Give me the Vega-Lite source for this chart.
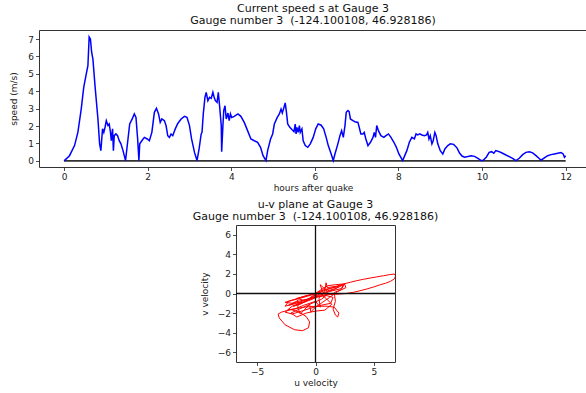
{
  "$schema": "https://vega.github.io/schema/vega-lite/v6.json",
  "padding": {"left": 9, "top": 2, "right": 0, "bottom": 0},
  "background": "white",
  "bounds": "flush",
  "spacing": 58,
  "config": {
    "font": "DejaVu Sans",
    "view": {"stroke": "#333333", "strokeWidth": 1},
    "axis": {
      "grid": false,
      "domain": false,
      "tickColor": "#222222",
      "tickSize": 3.5,
      "tickWidth": 0.8,
      "tickCount": 30,
      "format": "d",
      "labelFont": "DejaVu Sans",
      "labelFontSize": 9,
      "labelColor": "#222222",
      "labelPadding": 2,
      "labelOverlap": false,
      "labelFlush": false,
      "titleFont": "DejaVu Sans",
      "titleFontSize": 9,
      "titleFontWeight": "normal",
      "titleColor": "#222222"
    },
    "title": {
      "font": "DejaVu Sans",
      "fontSize": 11,
      "fontWeight": "normal",
      "color": "#111111",
      "anchor": "middle",
      "lineHeight": 12,
      "offset": 4
    }
  },
  "datasets": {
    "speed": [
      {"h":0,"s":0},{"h":0.13,"s":0.3},{"h":0.25,"s":0.88},{"h":0.33,"s":1.64},{"h":0.41,"s":2.98},
      {"h":0.47,"s":4.22},{"h":0.53,"s":4.99},{"h":0.57,"s":5.47},{"h":0.6,"s":7.12},{"h":0.63,"s":7.0},
      {"h":0.66,"s":6.23},{"h":0.69,"s":5.85},{"h":0.74,"s":4.32},{"h":0.81,"s":2.41},{"h":0.85,"s":0.98},
      {"h":0.88,"s":0.59},{"h":0.92,"s":1.84},{"h":0.95,"s":1.64},{"h":0.98,"s":1.93},{"h":1.01,"s":2.31},
      {"h":1.05,"s":2.03},{"h":1.08,"s":2.12},{"h":1.11,"s":1.64},{"h":1.13,"s":1.16},{"h":1.16,"s":1.84},
      {"h":1.18,"s":0.59},{"h":1.2,"s":1.45},{"h":1.24,"s":1.55},{"h":1.28,"s":1.45},{"h":1.32,"s":1.16},
      {"h":1.36,"s":0.98},{"h":1.41,"s":0.59},{"h":1.47,"s":0.02},{"h":1.52,"s":1.07},{"h":1.57,"s":2.12},
      {"h":1.63,"s":2.41},{"h":1.68,"s":2.7},{"h":1.72,"s":2.5},{"h":1.76,"s":1.26},{"h":1.79,"s":0.02},
      {"h":1.81,"s":0.98},{"h":1.86,"s":1.16},{"h":1.92,"s":1.35},{"h":1.99,"s":1.26},{"h":2.04,"s":1.16},
      {"h":2.1,"s":1.64},{"h":2.16,"s":2.79},{"h":2.21,"s":3.02},{"h":2.26,"s":2.7},{"h":2.3,"s":2.21},
      {"h":2.34,"s":2.41},{"h":2.4,"s":2.31},{"h":2.44,"s":2.03},{"h":2.48,"s":1.45},{"h":2.52,"s":1.35},
      {"h":2.56,"s":1.55},{"h":2.6,"s":1.45},{"h":2.66,"s":1.84},{"h":2.72,"s":2.15},{"h":2.8,"s":2.41},
      {"h":2.88,"s":2.56},{"h":2.94,"s":2.5},{"h":3.0,"s":2.03},{"h":3.05,"s":1.26},{"h":3.12,"s":0.49},
      {"h":3.18,"s":0.02},{"h":3.23,"s":0.69},{"h":3.28,"s":1.55},{"h":3.3,"s":1.64},{"h":3.33,"s":2.7},
      {"h":3.37,"s":3.65},{"h":3.4,"s":3.94},{"h":3.44,"s":3.46},{"h":3.48,"s":3.65},{"h":3.52,"s":3.59},
      {"h":3.56,"s":3.94},{"h":3.59,"s":3.65},{"h":3.62,"s":3.46},{"h":3.66,"s":3.36},{"h":3.69,"s":3.94},
      {"h":3.72,"s":3.17},{"h":3.76,"s":2.03},{"h":3.77,"s":0.53},{"h":3.8,"s":2.03},{"h":3.82,"s":2.89},
      {"h":3.85,"s":3.17},{"h":3.88,"s":2.41},{"h":3.92,"s":2.75},{"h":3.95,"s":2.31},{"h":3.98,"s":2.7},
      {"h":4.01,"s":2.5},{"h":4.07,"s":2.56},{"h":4.16,"s":2.7},{"h":4.23,"s":2.56},{"h":4.31,"s":2.21},
      {"h":4.39,"s":1.74},{"h":4.47,"s":1.26},{"h":4.55,"s":1.16},{"h":4.63,"s":1.07},{"h":4.7,"s":0.78},
      {"h":4.76,"s":0.3},{"h":4.83,"s":0.02},{"h":4.87,"s":0.59},{"h":4.94,"s":1.26},{"h":4.99,"s":1.55},
      {"h":5.03,"s":2.12},{"h":5.1,"s":2.5},{"h":5.15,"s":2.7},{"h":5.19,"s":2.98},{"h":5.22,"s":2.75},
      {"h":5.26,"s":3.07},{"h":5.29,"s":3.33},{"h":5.32,"s":2.79},{"h":5.35,"s":2.12},{"h":5.4,"s":1.93},
      {"h":5.45,"s":1.8},{"h":5.5,"s":1.68},{"h":5.53,"s":2.12},{"h":5.55,"s":1.55},{"h":5.57,"s":1.93},
      {"h":5.6,"s":1.64},{"h":5.63,"s":2.03},{"h":5.65,"s":1.64},{"h":5.69,"s":1.84},{"h":5.72,"s":1.16},
      {"h":5.77,"s":0.88},{"h":5.83,"s":0.78},{"h":5.89,"s":0.98},{"h":5.96,"s":1.35},{"h":6.02,"s":1.84},
      {"h":6.08,"s":2.12},{"h":6.15,"s":2.05},{"h":6.21,"s":1.84},{"h":6.27,"s":1.35},{"h":6.32,"s":0.88},
      {"h":6.39,"s":0.4},{"h":6.44,"s":0.02},{"h":6.48,"s":0.4},{"h":6.55,"s":0.98},{"h":6.6,"s":1.45},
      {"h":6.64,"s":1.74},{"h":6.68,"s":1.35},{"h":6.72,"s":2.03},{"h":6.75,"s":2.79},{"h":6.79,"s":2.89},
      {"h":6.82,"s":2.83},{"h":6.85,"s":2.41},{"h":6.91,"s":2.31},{"h":6.96,"s":2.25},{"h":7.03,"s":2.21},
      {"h":7.06,"s":1.93},{"h":7.1,"s":1.55},{"h":7.15,"s":1.55},{"h":7.18,"s":1.64},{"h":7.22,"s":1.26},
      {"h":7.27,"s":0.88},{"h":7.33,"s":1.07},{"h":7.39,"s":1.35},{"h":7.42,"s":1.64},{"h":7.45,"s":1.35},
      {"h":7.48,"s":2.03},{"h":7.52,"s":1.74},{"h":7.58,"s":1.45},{"h":7.65,"s":1.35},{"h":7.7,"s":1.45},
      {"h":7.76,"s":1.55},{"h":7.82,"s":1.35},{"h":7.89,"s":1.07},{"h":7.95,"s":0.78},{"h":8.01,"s":0.4},
      {"h":8.1,"s":0.02},{"h":8.2,"s":0.59},{"h":8.26,"s":1.07},{"h":8.32,"s":1.35},{"h":8.38,"s":1.26},
      {"h":8.42,"s":1.55},{"h":8.46,"s":1.49},{"h":8.51,"s":1.55},{"h":8.56,"s":1.49},{"h":8.62,"s":1.45},
      {"h":8.67,"s":1.49},{"h":8.7,"s":1.64},{"h":8.73,"s":1.26},{"h":8.76,"s":1.45},{"h":8.8,"s":0.98},
      {"h":8.83,"s":1.16},{"h":8.87,"s":1.64},{"h":8.9,"s":1.45},{"h":8.94,"s":0.98},{"h":9.0,"s":0.59},
      {"h":9.06,"s":0.4},{"h":9.11,"s":0.69},{"h":9.18,"s":0.88},{"h":9.24,"s":0.98},{"h":9.32,"s":0.95},
      {"h":9.4,"s":0.75},{"h":9.46,"s":0.45},{"h":9.52,"s":0.28},{"h":9.58,"s":0.21},{"h":9.66,"s":0.25},
      {"h":9.74,"s":0.3},{"h":9.82,"s":0.26},{"h":9.9,"s":0.15},{"h":9.98,"s":0.02},{"h":10.02,"s":0.02},
      {"h":10.1,"s":0.21},{"h":10.17,"s":0.49},{"h":10.23,"s":0.53},{"h":10.28,"s":0.44},{"h":10.33,"s":0.59},
      {"h":10.41,"s":0.53},{"h":10.49,"s":0.44},{"h":10.57,"s":0.34},{"h":10.65,"s":0.25},{"h":10.73,"s":0.15},
      {"h":10.81,"s":0.02},{"h":10.89,"s":0.15},{"h":10.97,"s":0.36},{"h":11.05,"s":0.49},{"h":11.13,"s":0.53},
      {"h":11.21,"s":0.46},{"h":11.29,"s":0.3},{"h":11.36,"s":0.15},{"h":11.41,"s":0.04},{"h":11.49,"s":0.17},
      {"h":11.57,"s":0.3},{"h":11.65,"s":0.36},{"h":11.73,"s":0.4},{"h":11.81,"s":0.44},{"h":11.89,"s":0.48},
      {"h":11.94,"s":0.4},{"h":11.97,"s":0.21},{"h":12.0,"s":0.3}
    ],
    "uv": [
      {"i":0,"u":0,"v":0},{"i":1,"u":0.3,"v":0.25},{"i":2,"u":0.7,"v":0.55},{"i":3,"u":1.07,"v":0.8},
      {"i":4,"u":1.7,"v":0.9},{"i":5,"u":2.37,"v":0.97},{"i":6,"u":3.0,"v":1.15},{"i":7,"u":3.52,"v":1.31},
      {"i":8,"u":4.1,"v":1.45},{"i":9,"u":4.67,"v":1.58},{"i":10,"u":5.25,"v":1.7},{"i":11,"u":5.83,"v":1.82},
      {"i":12,"u":6.3,"v":1.92},{"i":13,"u":6.75,"v":1.99},{"i":14,"u":6.85,"v":1.8},{"i":15,"u":6.75,"v":1.5},
      {"i":16,"u":6.41,"v":1.24},{"i":17,"u":6.0,"v":1.05},{"i":18,"u":5.54,"v":0.9},{"i":19,"u":5.0,"v":0.68},
      {"i":20,"u":4.39,"v":0.46},{"i":21,"u":3.8,"v":0.28},{"i":22,"u":3.23,"v":0.12},{"i":23,"u":2.6,"v":0.0},
      {"i":24,"u":2.08,"v":-0.05},{"i":25,"u":1.5,"v":-0.1},{"i":26,"u":0.92,"v":-0.12},{"i":27,"u":0.3,"v":-0.3},
      {"i":28,"u":-0.8,"v":-0.6},{"i":29,"u":-1.8,"v":-0.9},{"i":30,"u":-2.3,"v":-1.2},{"i":31,"u":-1.6,"v":-1.0},
      {"i":32,"u":-0.5,"v":-0.5},{"i":33,"u":0.5,"v":0.2},{"i":34,"u":1.5,"v":0.6},{"i":35,"u":2.4,"v":0.9},
      {"i":36,"u":2.2,"v":0.5},{"i":37,"u":1.2,"v":0.2},{"i":38,"u":0.3,"v":-0.2},{"i":39,"u":-0.9,"v":-0.8},
      {"i":40,"u":-2.0,"v":-1.3},{"i":41,"u":-2.4,"v":-1.7},{"i":42,"u":-1.8,"v":-1.6},{"i":43,"u":-1.0,"v":-1.2},
      {"i":44,"u":0.0,"v":-0.8},{"i":45,"u":0.4,"v":-1.4},{"i":46,"u":0.3,"v":-0.5},{"i":47,"u":0.8,"v":0.3},
      {"i":48,"u":0.9,"v":1.1},{"i":49,"u":1.0,"v":0.6},{"i":50,"u":1.8,"v":0.75},{"i":51,"u":2.5,"v":1.0},
      {"i":52,"u":2.2,"v":0.4},{"i":53,"u":1.6,"v":0.1},{"i":54,"u":1.7,"v":-0.8},{"i":55,"u":1.5,"v":-1.6},
      {"i":56,"u":1.7,"v":-2.2},{"i":57,"u":1.9,"v":-2.4},{"i":58,"u":2.0,"v":-2.0},{"i":59,"u":1.6,"v":-1.4},
      {"i":60,"u":1.0,"v":-1.3},{"i":61,"u":0.0,"v":-1.3},{"i":62,"u":-1.0,"v":-1.4},{"i":63,"u":-2.0,"v":-1.6},
      {"i":64,"u":-2.9,"v":-1.9},{"i":65,"u":-3.2,"v":-2.1},{"i":66,"u":-3.1,"v":-2.5},{"i":67,"u":-2.6,"v":-3.2},
      {"i":68,"u":-1.8,"v":-3.7},{"i":69,"u":-1.1,"v":-3.8},{"i":70,"u":-0.6,"v":-3.5},{"i":71,"u":-0.5,"v":-2.9},
      {"i":72,"u":-0.8,"v":-2.35},{"i":73,"u":-1.4,"v":-1.9},{"i":74,"u":-2.2,"v":-1.6},{"i":75,"u":-2.6,"v":-1.9},
      {"i":76,"u":-2.0,"v":-2.1},{"i":77,"u":-1.2,"v":-1.8},{"i":78,"u":-0.4,"v":-1.5},{"i":79,"u":0.5,"v":-1.2},
      {"i":80,"u":1.3,"v":-1.0},{"i":81,"u":1.5,"v":-0.4},{"i":82,"u":0.9,"v":-0.2},{"i":83,"u":0.0,"v":-0.4},
      {"i":84,"u":-1.0,"v":-0.7},{"i":85,"u":-1.6,"v":-0.5},{"i":86,"u":-1.0,"v":-0.3},{"i":87,"u":0.0,"v":0.0},
      {"i":88,"u":0.6,"v":0.35},{"i":89,"u":1.3,"v":0.55},{"i":90,"u":2.0,"v":0.7},{"i":91,"u":1.6,"v":0.4},
      {"i":92,"u":0.7,"v":0.1},{"i":93,"u":-0.3,"v":-0.4},{"i":94,"u":-1.3,"v":-1.1},{"i":95,"u":-1.9,"v":-1.3},
      {"i":96,"u":-1.2,"v":-1.0},{"i":97,"u":-0.3,"v":-0.6},{"i":98,"u":0.2,"v":-0.3},{"i":99,"u":0.0,"v":-0.1},
      {"i":100,"u":0.2,"v":0.1},{"i":101,"u":0.1,"v":0.0},{"i":102,"u":-1.2,"v":-0.45},{"i":103,"u":-2.3,"v":-0.8},
      {"i":104,"u":-2.6,"v":-1.3},{"i":105,"u":-2.0,"v":-1.1},{"i":106,"u":-1.5,"v":-0.7},{"i":107,"u":-1.5,"v":-1.5},
      {"i":108,"u":-1.3,"v":-2.1},{"i":109,"u":-0.9,"v":-1.6},{"i":110,"u":-0.5,"v":-1.1},{"i":111,"u":-0.4,"v":-1.9},
      {"i":112,"u":-0.1,"v":-1.5},{"i":113,"u":0.6,"v":-0.9},{"i":114,"u":1.2,"v":-0.4},{"i":115,"u":1.9,"v":0.2},
      {"i":116,"u":2.6,"v":0.6},{"i":117,"u":2.5,"v":0.95},{"i":118,"u":1.8,"v":0.55},{"i":119,"u":1.0,"v":0.25},
      {"i":120,"u":0.4,"v":0.9},{"i":121,"u":0.6,"v":0.2},{"i":122,"u":-0.2,"v":-0.2},{"i":123,"u":-1.0,"v":-0.9},
      {"i":124,"u":-2.0,"v":-1.0},{"i":125,"u":-2.6,"v":-0.9},{"i":126,"u":-1.8,"v":-0.6},{"i":127,"u":-0.7,"v":-0.2},
      {"i":128,"u":0.3,"v":0.1},{"i":129,"u":0.9,"v":-0.5},{"i":130,"u":1.4,"v":-1.1},{"i":131,"u":0.8,"v":-1.7},
      {"i":132,"u":0.0,"v":-1.8},{"i":133,"u":-0.8,"v":-2.0},{"i":134,"u":-1.6,"v":-2.4},{"i":135,"u":-2.1,"v":-2.0},
      {"i":136,"u":-1.4,"v":-1.6},{"i":137,"u":-0.3,"v":-1.0},{"i":138,"u":0.5,"v":-0.6},{"i":139,"u":1.0,"v":-0.1},
      {"i":140,"u":0.4,"v":0.0},{"i":141,"u":0.1,"v":-0.05}
    ]
  },
  "vconcat": [
    {
      "title": {"text": ["Current speed s at Gauge 3", "Gauge number 3\u00a0 (-124.100108, 46.928186)"]},
      "width": 548,
      "height": 137,
      "layer": [
        {
          "data": {"values": [{}]},
          "mark": {"type": "rule", "color": "#333333", "strokeWidth": 1.8},
          "encoding": {
            "x": {"datum": 0, "type": "quantitative"},
            "x2": {"datum": 12},
            "y": {"datum": 0, "type": "quantitative"}
          }
        },
        {
          "data": {"name": "speed"},
          "mark": {"type": "line", "color": "#0000ff", "strokeWidth": 1.5, "clip": true},
          "encoding": {
            "x": {
              "field": "h", "type": "quantitative",
              "scale": {"domain": [-0.6, 12.51], "nice": false, "zero": false},
              "axis": {"title": "hours after quake", "values": [0, 2, 4, 6, 8, 10, 12], "titlePadding": 2, "tickCount": 30, "format": "d"}
            },
            "y": {
              "field": "s", "type": "quantitative",
              "scale": {"domain": [-0.35, 7.52], "nice": false, "zero": false},
              "axis": {"title": "speed (m/s)", "values": [0, 1, 2, 3, 4, 5, 6, 7], "titlePadding": 9, "tickCount": 30, "format": "d"}
            }
          }
        }
      ]
    },
    {
      "bounds": "flush",
      "spacing": 0,
      "hconcat": [
        {
          "width": 197,
          "height": 137,
          "view": {"stroke": null},
          "data": {"values": [{}]},
          "mark": {"type": "point", "opacity": 0},
          "encoding": {}
        },
        {
          "title": {"text": ["u-v plane at Gauge 3", "Gauge number 3\u00a0 (-124.100108, 46.928186)"], "offset": 2},
          "width": 159,
          "height": 137,
          "layer": [
            {
              "data": {"name": "uv"},
              "mark": {"type": "line", "color": "#ff0000", "strokeWidth": 1, "clip": true},
              "encoding": {
                "x": {
                  "field": "u", "type": "quantitative",
                  "scale": {"domain": [-6.8, 6.8], "nice": false, "zero": false},
                  "axis": {"title": "u velocity", "values": [-5, 0, 5], "titlePadding": 2, "tickCount": 30, "format": "d"}
                },
                "y": {
                  "field": "v", "type": "quantitative",
                  "scale": {"domain": [-7, 7], "nice": false, "zero": false},
                  "axis": {"title": "v velocity", "values": [-6, -4, -2, 0, 2, 4, 6], "titlePadding": 8, "tickCount": 30, "format": "d"}
                },
                "order": {"field": "i", "type": "quantitative"}
              }
            },
            {
              "data": {"values": [{}]},
              "mark": {"type": "rule", "color": "#111111", "strokeWidth": 1.3},
              "encoding": {"y": {"datum": 0, "type": "quantitative"}}
            },
            {
              "data": {"values": [{}]},
              "mark": {"type": "rule", "color": "#111111", "strokeWidth": 1.3},
              "encoding": {"x": {"datum": 0, "type": "quantitative"}}
            }
          ]
        }
      ]
    }
  ]
}
